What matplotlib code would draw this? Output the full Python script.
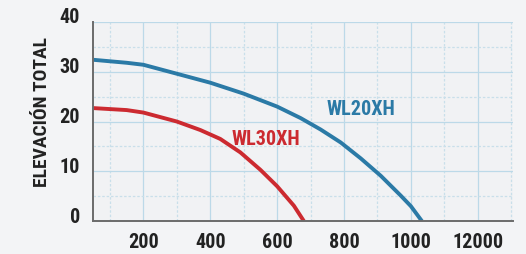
import matplotlib
matplotlib.use("Agg")
import matplotlib.pyplot as plt
import matplotlib.transforms as mtransforms

# caudal (x) vs elevacion total (y)
wl20_x = [50, 150, 200, 300, 400, 500, 600, 670, 730, 790, 850, 910, 970, 1000, 1033]
wl20_y = [32.4, 31.8, 31.4, 29.6, 27.8, 25.6, 23.0, 20.7, 18.4, 15.8, 12.6, 9.1, 5.1, 3.0, 0]
wl30_x = [50, 150, 200, 300, 370, 430, 490, 550, 600, 650, 680]
wl30_y = [22.7, 22.3, 21.8, 20.0, 18.3, 16.5, 13.8, 10.3, 7.0, 3.1, 0]

x_ticks = [200, 400, 600, 800, 1000, 1200]
x_labels = ["200", "400", "600", "800", "1000", "12000"]
y_ticks = [0, 10, 20, 30, 40]

blue = "#2b7aa6"
red = "#cc2a30"
plt.rcParams["font.family"] = ["Roboto Condensed", "DejaVu Sans Condensed",
                               "Liberation Sans Narrow", "Roboto", "DejaVu Sans"]
plt.rcParams["font.stretch"] = "condensed"

fig = plt.figure(figsize=(5.26, 2.55), dpi=100, facecolor="#f3f4f6")
ax = fig.add_axes([0.176, 0.129, 0.799, 0.781], facecolor="#f1f2f4")

ax.plot(wl20_x, wl20_y, color=blue, lw=2.8, solid_capstyle="butt")
ax.plot(wl30_x, wl30_y, color=red, lw=2.8, solid_capstyle="butt")

ax.text(850, 22.6, "WL20XH", color=blue, fontsize=14.5, fontweight="bold",
        ha="center", va="center")
ax.text(565, 16.5, "WL30XH", color=red, fontsize=14.5, fontweight="bold",
        ha="center", va="center")

ax.set_xlim(48, 1305)
ax.set_ylim(0, 40)
ax.set_xticks(x_ticks)
ax.set_xticklabels(x_labels)
ax.set_yticks(y_ticks)
ax.set_xticks(range(100, 1400, 200), minor=True)
ax.set_yticks([5, 15, 25, 35], minor=True)

ax.grid(which="major", color="#bcd9e8", lw=0.9)
ax.grid(which="minor", color="#c9dfea", lw=0.9, ls=(0, (2, 1.5)))
ax.set_axisbelow(True)

ax.tick_params(which="both", length=0)
ax.tick_params(axis="x", pad=8, labelsize=14.5, labelcolor="#222222")
ax.tick_params(axis="y", pad=9, labelsize=14.5, labelcolor="#222222")
for lab in ax.get_xticklabels() + ax.get_yticklabels():
    lab.set_fontweight("bold")
# y labels sit a bit above their grid lines in the original
shift = mtransforms.ScaledTranslation(0, 7 / 100, fig.dpi_scale_trans)
for lab in ax.get_yticklabels():
    lab.set_transform(lab.get_transform() + shift)

for side in ["top", "right"]:
    ax.spines[side].set_visible(False)
for side in ["left", "bottom"]:
    ax.spines[side].set_color("#6b6b6b")
    ax.spines[side].set_linewidth(1.4)

fig.text(0.08, 0.56, "ELEVACIÓN TOTAL", rotation=90, fontsize=14,
         fontweight="bold", color="#222222", ha="center", va="center")

fig.savefig("out.png", dpi=100, facecolor=fig.get_facecolor())
